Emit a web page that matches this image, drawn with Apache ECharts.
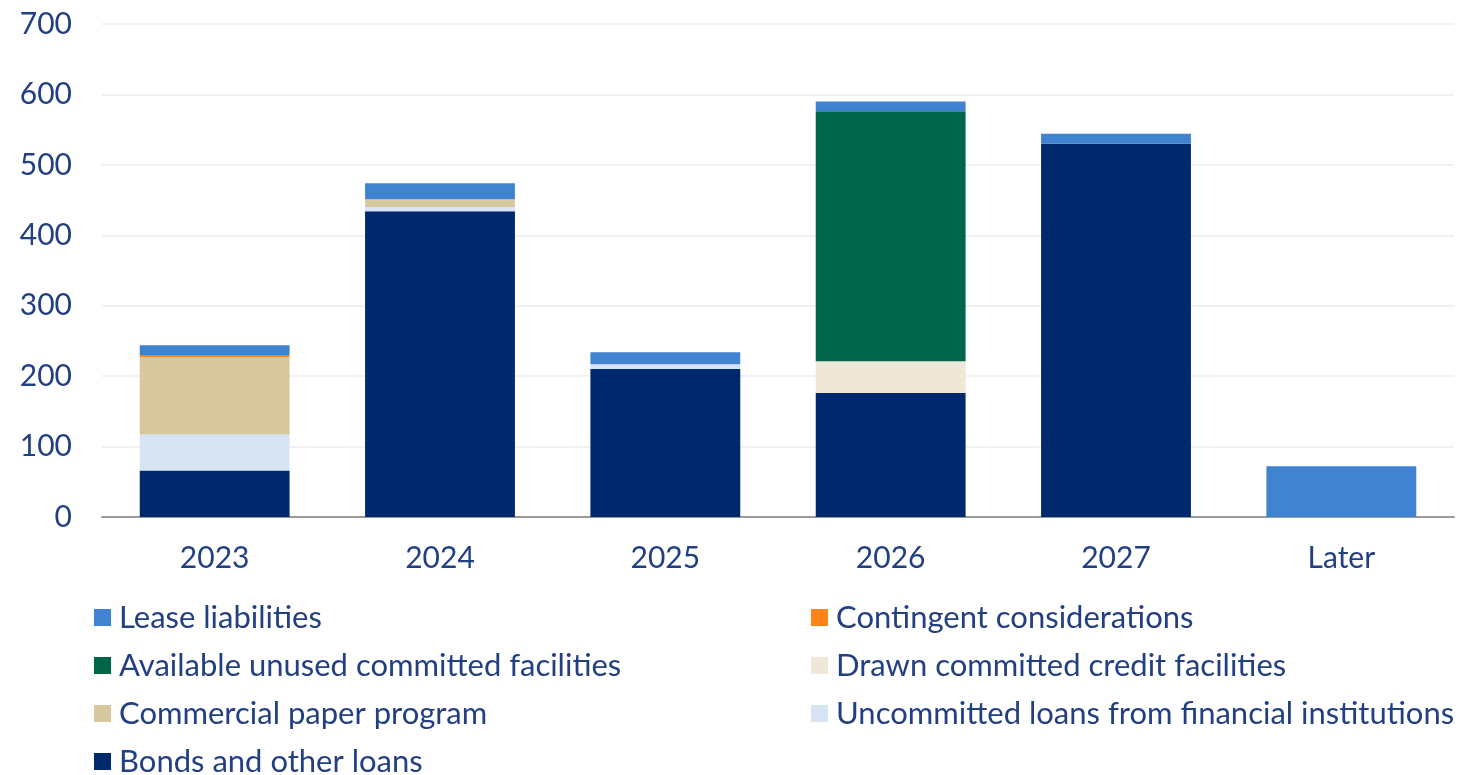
<!DOCTYPE html>
<html>
<head>
<meta charset="utf-8">
<script src="https://cdn.jsdelivr.net/npm/echarts@6/dist/echarts.min.js"></script>
<style>
    html, body { margin: 0; padding: 0; background: #fff; }
    #chart { width: 1463px; height: 775px; }
</style>
</head>
<body>
<div id="chart"></div>
<script>
    // categories and values
    const years = ['2023', '2024', '2025', '2026', '2027', 'Later']
    const yTicks = [0, 100, 200, 300, 400, 500, 600, 700]

    const bonds = [66, 434, 210, 176, 530, 0]
    const uncommitted = [51, 6, 7, 0, 0, 0]
    const commercialPaper = [110, 11, 0, 0, 0, 0]
    const drawnCommitted = [0, 0, 0, 45, 0, 0]
    const availableUnused = [0, 0, 0, 355, 0, 0]
    const contingent = [3, 0, 0, 0, 0, 0]
    const lease = [14, 23, 17, 14, 14, 72]

    const textColor = '#223f82'
    const font = 'Lato, "Open Sans", sans-serif'

    // 从下到上的堆叠顺序
    const stackOrder = [
        {name: 'Bonds and other loans', data: bonds, color: '#00296e'},
        {name: 'Uncommitted loans from financial institutions', data: uncommitted, color: '#d6e4f4'},
        {name: 'Commercial paper program', data: commercialPaper, color: '#d7c89e'},
        {name: 'Drawn committed credit facilities', data: drawnCommitted, color: '#efe8d8'},
        {name: 'Available unused committed facilities', data: availableUnused, color: '#00664a'},
        {name: 'Contingent considerations', data: contingent, color: '#ff8418'},
        {name: 'Lease liabilities', data: lease, color: '#3f83d1'}
    ]

    const legendCommon = {
        orient: 'vertical',
        icon: 'rect',
        itemWidth: 17,
        itemHeight: 17,
        itemGap: 17,
        padding: 0,
        height: 220,
        textStyle: {color: textColor, fontSize: 31, fontFamily: font, padding: [0, 0, 0, 3]}
    }

    let chart = echarts.init(document.getElementById('chart'))
    chart.setOption({
        animation: false,
        grid: {left: 102, right: 9, top: 24, bottom: 258},
        legend: [
            Object.assign({left: 94, top: 602, data: ['Lease liabilities', 'Available unused committed facilities', 'Commercial paper program', 'Bonds and other loans']}, legendCommon),
            Object.assign({left: 811, top: 602, data: ['Contingent considerations', 'Drawn committed credit facilities', 'Uncommitted loans from financial institutions']}, legendCommon)
        ],
        xAxis: {
            type: 'category',
            data: years,
            axisTick: {show: false},
            axisLine: {lineStyle: {color: '#9a9a9a', width: 2}},
            axisLabel: {color: textColor, fontSize: 30, fontFamily: font, margin: 26}
        },
        yAxis: {
            type: 'value',
            min: yTicks[0],
            max: yTicks[yTicks.length - 1],
            interval: 100,
            axisLine: {show: false},
            axisTick: {show: false},
            splitLine: {lineStyle: {color: '#ececec', width: 1.5}},
            axisLabel: {color: textColor, fontSize: 30, fontFamily: font, margin: 30}
        },
        series: stackOrder.map(s => ({
            name: s.name,
            type: 'bar',
            stack: 'total',
            barWidth: '66.5%',
            data: s.data,
            itemStyle: {color: s.color}
        }))
    })
</script>
</body>
</html>
